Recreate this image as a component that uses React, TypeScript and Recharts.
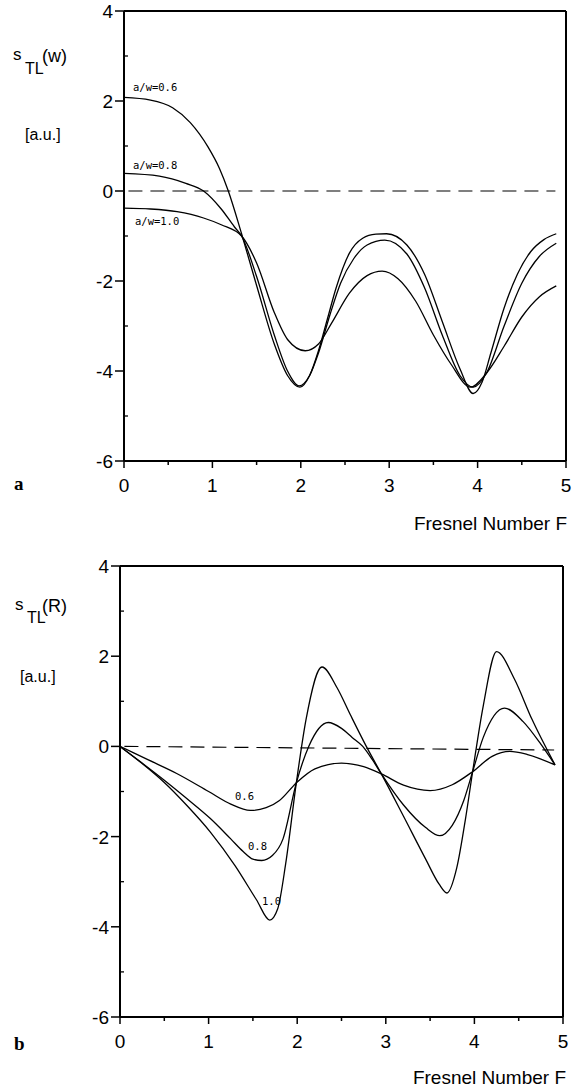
import { LineChart, Line, XAxis, YAxis, ReferenceLine } from 'recharts';

// panel a: s_TL(w) vs Fresnel number, three aperture ratios
const curveA06 = [
  { F: 0, s: 2.08 }, { F: 0.3, s: 2.02 }, { F: 0.55, s: 1.85 }, { F: 0.75, s: 1.52 },
  { F: 0.95, s: 0.98 }, { F: 1.08, s: 0.5 }, { F: 1.18, s: 0 }, { F: 1.33, s: -0.95 },
  { F: 1.5, s: -2.1 }, { F: 1.7, s: -3.4 }, { F: 1.85, s: -4.1 }, { F: 1.99, s: -4.36 },
  { F: 2.1, s: -4.1 }, { F: 2.2, s: -3.55 }, { F: 2.3, s: -2.85 }, { F: 2.4, s: -2.15 },
  { F: 2.55, s: -1.38 }, { F: 2.7, s: -1.05 }, { F: 2.85, s: -0.96 }, { F: 2.97, s: -0.95 },
  { F: 3.2, s: -1.2 }, { F: 3.4, s: -1.85 }, { F: 3.6, s: -2.9 }, { F: 3.8, s: -3.95 },
  { F: 3.95, s: -4.5 }, { F: 4.05, s: -4.25 }, { F: 4.15, s: -3.6 }, { F: 4.3, s: -2.6 },
  { F: 4.45, s: -1.85 }, { F: 4.6, s: -1.35 }, { F: 4.75, s: -1.08 }, { F: 4.89, s: -0.95 },
];
const curveA08 = [
  { F: 0, s: 0.39 }, { F: 0.4, s: 0.33 }, { F: 0.7, s: 0.17 }, { F: 0.9, s: 0 },
  { F: 1.1, s: -0.4 }, { F: 1.25, s: -0.8 }, { F: 1.33, s: -1.0 }, { F: 1.5, s: -1.9 },
  { F: 1.7, s: -3.2 }, { F: 1.85, s: -4.0 }, { F: 1.98, s: -4.33 }, { F: 2.1, s: -4.1 },
  { F: 2.2, s: -3.6 }, { F: 2.33, s: -2.75 }, { F: 2.45, s: -2.05 }, { F: 2.6, s: -1.5 },
  { F: 2.75, s: -1.2 }, { F: 2.95, s: -1.09 }, { F: 3.2, s: -1.4 }, { F: 3.4, s: -2.15 },
  { F: 3.6, s: -3.2 }, { F: 3.8, s: -4.1 }, { F: 3.95, s: -4.36 }, { F: 4.1, s: -4.05 },
  { F: 4.3, s: -3.0 }, { F: 4.5, s: -2.05 }, { F: 4.7, s: -1.45 }, { F: 4.89, s: -1.16 },
];
const curveA10 = [
  { F: 0, s: -0.38 }, { F: 0.3, s: -0.4 }, { F: 0.6, s: -0.46 }, { F: 0.9, s: -0.6 },
  { F: 1.1, s: -0.75 }, { F: 1.33, s: -1.0 }, { F: 1.5, s: -1.6 }, { F: 1.7, s: -2.7 },
  { F: 1.85, s: -3.3 }, { F: 2.05, s: -3.55 }, { F: 2.2, s: -3.4 }, { F: 2.35, s: -2.93 },
  { F: 2.55, s: -2.27 }, { F: 2.75, s: -1.88 }, { F: 2.92, s: -1.78 }, { F: 3.1, s: -1.95 },
  { F: 3.3, s: -2.45 }, { F: 3.5, s: -3.2 }, { F: 3.7, s: -3.85 }, { F: 3.92, s: -4.36 },
  { F: 4.1, s: -4.05 }, { F: 4.3, s: -3.45 }, { F: 4.5, s: -2.8 }, { F: 4.7, s: -2.35 },
  { F: 4.89, s: -2.11 },
];
const zeroLineA = [{ F: 0.05, s: 0 }, { F: 4.88, s: 0 }];

// panel b: s_TL(R)
const curveB06 = [
  { F: 0, s: 0 }, { F: 0.32, s: -0.3 }, { F: 0.64, s: -0.6 }, { F: 1.0, s: -1.0 },
  { F: 1.25, s: -1.28 }, { F: 1.47, s: -1.42 }, { F: 1.65, s: -1.36 }, { F: 1.8, s: -1.2 },
  { F: 1.99, s: -0.81 }, { F: 2.2, s: -0.5 }, { F: 2.5, s: -0.37 }, { F: 2.75, s: -0.45 },
  { F: 2.95, s: -0.61 }, { F: 3.2, s: -0.86 }, { F: 3.5, s: -0.98 }, { F: 3.75, s: -0.85 },
  { F: 3.98, s: -0.56 }, { F: 4.2, s: -0.22 }, { F: 4.4, s: -0.11 }, { F: 4.6, s: -0.18 },
  { F: 4.91, s: -0.41 },
];
const curveB08 = [
  { F: 0, s: 0 }, { F: 0.25, s: -0.37 }, { F: 0.5, s: -0.75 }, { F: 0.75, s: -1.15 },
  { F: 1.02, s: -1.6 }, { F: 1.25, s: -2.05 }, { F: 1.39, s: -2.33 }, { F: 1.5, s: -2.5 },
  { F: 1.6, s: -2.53 }, { F: 1.72, s: -2.42 }, { F: 1.84, s: -2.05 }, { F: 1.99, s: -0.81 },
  { F: 2.13, s: 0 }, { F: 2.35, s: 0.53 }, { F: 2.5, s: 0.4 }, { F: 2.62, s: 0.2 },
  { F: 2.74, s: 0 }, { F: 2.85, s: -0.3 }, { F: 2.95, s: -0.61 }, { F: 3.2, s: -1.3 },
  { F: 3.45, s: -1.8 }, { F: 3.61, s: -1.98 }, { F: 3.75, s: -1.75 }, { F: 3.88, s: -1.2 },
  { F: 3.98, s: -0.56 }, { F: 4.1, s: 0.2 }, { F: 4.34, s: 0.85 }, { F: 4.55, s: 0.55 },
  { F: 4.75, s: 0.05 }, { F: 4.91, s: -0.41 },
];
const curveB10 = [
  { F: 0, s: 0 }, { F: 0.25, s: -0.38 }, { F: 0.5, s: -0.8 }, { F: 0.75, s: -1.3 },
  { F: 1.02, s: -1.9 }, { F: 1.3, s: -2.65 }, { F: 1.54, s: -3.4 }, { F: 1.69, s: -3.85 },
  { F: 1.78, s: -3.6 }, { F: 1.87, s: -2.6 }, { F: 1.99, s: -0.81 }, { F: 2.1, s: 0.6 },
  { F: 2.28, s: 1.76 }, { F: 2.45, s: 1.3 }, { F: 2.6, s: 0.7 }, { F: 2.78, s: 0 },
  { F: 2.95, s: -0.61 }, { F: 3.2, s: -1.55 }, { F: 3.45, s: -2.5 }, { F: 3.6, s: -3.05 },
  { F: 3.69, s: -3.25 }, { F: 3.8, s: -2.7 }, { F: 3.9, s: -1.6 }, { F: 3.98, s: -0.56 },
  { F: 4.1, s: 0.9 }, { F: 4.25, s: 2.1 }, { F: 4.45, s: 1.5 }, { F: 4.65, s: 0.6 },
  { F: 4.91, s: -0.41 },
];
const zeroLineB = [{ F: 0.05, s: 0 }, { F: 4.9, s: -0.08 }];

const xTicks = [0, 0.5, 1, 1.5, 2, 2.5, 3, 3.5, 4, 4.5, 5];
const yTicks = [-6, -5, -4, -3, -2, -1, 0, 1, 2, 3, 4];

const FONT = '"Liberation Sans", Arial, sans-serif';

const YTick = (props: any) => {
  const { x, y, payload } = props;
  const v = payload.value;
  const major = v % 2 === 0;
  return (
    <g>
      {major ? (
        <line x1={x - 9} x2={x} y1={y} y2={y} stroke="#000" strokeWidth={1.5} />
      ) : (
        <line x1={x} x2={x + 4} y1={y} y2={y} stroke="#000" strokeWidth={1.3} />
      )}
      {major && (
        <text x={x - 11} y={y + 7} textAnchor="end" fontSize={19} fontFamily={FONT} fill="#000">
          {v}
        </text>
      )}
    </g>
  );
};

const XTick = (props: any) => {
  const { x, y, payload } = props;
  const v = payload.value;
  const major = Number.isInteger(v);
  return (
    <g>
      <line x1={x} x2={x} y1={y} y2={y + (major ? 7 : 4)} stroke="#000" strokeWidth={1.5} />
      {major && (
        <text x={x} y={y + 31} textAnchor="middle" fontSize={19} fontFamily={FONT} fill="#000">
          {v}
        </text>
      )}
    </g>
  );
};

function Panel({ curves, zero, width, height, margin }: any) {
  return (
    <LineChart width={width} height={height} margin={margin}>
      <XAxis
        dataKey="F"
        type="number"
        domain={[0, 5]}
        ticks={xTicks}
        interval={0}
        height={40}
        tickSize={0}
        tickMargin={0}
        tickLine={false}
        tick={<XTick />}
        axisLine={{ stroke: '#000', strokeWidth: 2 }}
        allowDataOverflow
      />
      <YAxis
        type="number"
        domain={[-6, 4]}
        ticks={yTicks}
        interval={0}
        width={30}
        tickSize={0}
        tickMargin={0}
        tickLine={false}
        tick={<YTick />}
        axisLine={{ stroke: '#000', strokeWidth: 2 }}
        allowDataOverflow
      />
      <ReferenceLine y={4} stroke="#000" strokeWidth={2} />
      <ReferenceLine x={5} stroke="#000" strokeWidth={2} />
      <ReferenceLine
        segment={[{ x: zero[0].F, y: zero[0].s }, { x: zero[1].F, y: zero[1].s }]}
        stroke="#000"
        strokeWidth={1.2}
        strokeDasharray="14 8"
      />
      {curves.map((c: any, i: number) => (
        <Line
          key={i}
          data={c}
          dataKey="s"
          type="monotone"
          stroke="#000"
          strokeWidth={1.3}
          dot={false}
          activeDot={false}
          isAnimationActive={false}
        />
      ))}
    </LineChart>
  );
}

export default function App() {
  const small = { fontFamily: '"DejaVu Sans Mono", monospace', fontSize: 10.5, fill: '#000' };
  const big = { fontFamily: FONT, fill: '#000' };
  return (
    <div style={{ position: 'absolute', left: 0, top: 0, width: 576, height: 1090, background: '#fff' }}>
      <div style={{ position: 'absolute', left: 0, top: 0 }}>
        <Panel
          curves={[curveA06, curveA08, curveA10]}
          zero={zeroLineA}
          width={576}
          height={540}
          margin={{ top: 11, right: 10, bottom: 39, left: 94 }}
        />
      </div>
      <div style={{ position: 'absolute', left: 0, top: 540 }}>
        <Panel
          curves={[curveB06, curveB08, curveB10]}
          zero={zeroLineB}
          width={576}
          height={550}
          margin={{ top: 26, right: 13, bottom: 33, left: 90 }}
        />
      </div>
      <svg width={576} height={1090} style={{ position: 'absolute', left: 0, top: 0, pointerEvents: 'none' }}>
        {/* panel a titles */}
        <text x={13} y={60} fontSize={17} {...big}>s</text>
        <text x={25} y={74} fontSize={16} {...big}>TL</text>
        <text x={42} y={62} fontSize={18} {...big}>(w)</text>
        <text x={25} y={140} fontSize={16} {...big}>[a.u.]</text>
        <text x={567} y={530} fontSize={19} textAnchor="end" {...big}>Fresnel Number F</text>
        <text x={14} y={490} fontSize={19} fontWeight="bold" fontFamily='"Liberation Serif", serif'>a</text>
        <text x={133} y={91} {...small}>a/w=0.6</text>
        <text x={133} y={169} {...small}>a/w=0.8</text>
        <text x={135} y={225} {...small}>a/w=1.0</text>
        {/* panel b titles */}
        <text x={15} y={610} fontSize={17} {...big}>s</text>
        <text x={27} y={623} fontSize={16} {...big}>TL</text>
        <text x={42} y={612} fontSize={18} {...big}>(R)</text>
        <text x={20} y={682} fontSize={16} {...big}>[a.u.]</text>
        <text x={566} y={1084} fontSize={19} textAnchor="end" {...big}>Fresnel Number F</text>
        <text x={14} y={1050} fontSize={19} fontWeight="bold" fontFamily='"Liberation Serif", serif'>b</text>
        <text x={235} y={800} {...small}>0.6</text>
        <text x={248} y={850} {...small}>0.8</text>
        <text x={262} y={905} {...small}>1.0</text>
      </svg>
    </div>
  );
}
